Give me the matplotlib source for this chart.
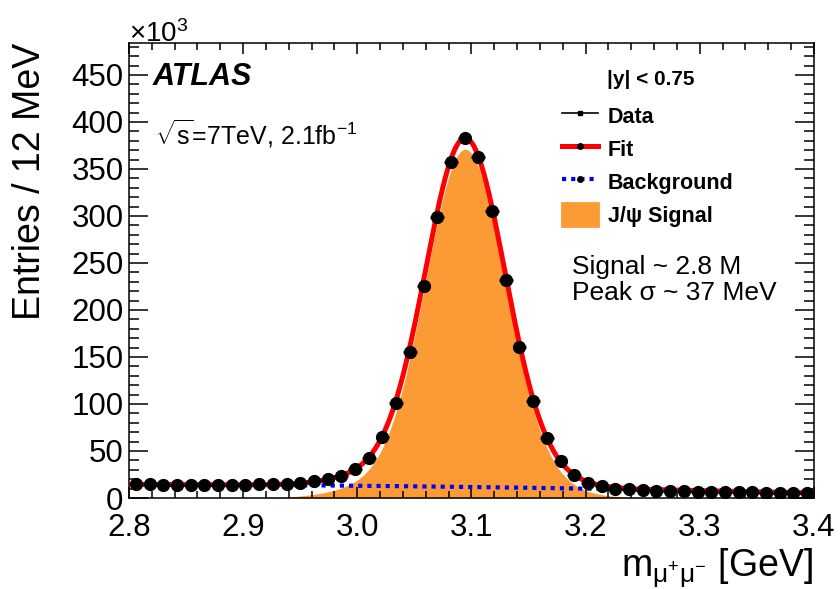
import numpy as np
import matplotlib
matplotlib.use("Agg")
import matplotlib.pyplot as plt
from matplotlib.lines import Line2D
from matplotlib.patches import Patch

plt.rcParams['font.family'] = ['Liberation Sans', 'DejaVu Sans']
plt.rcParams['mathtext.fontset'] = 'custom'
plt.rcParams['mathtext.rm'] = 'Liberation Sans'
plt.rcParams['mathtext.it'] = 'Liberation Sans:italic'
plt.rcParams['mathtext.bf'] = 'Liberation Sans:bold'

# ---- data (entries in units of 10^3 per 12 MeV bin) ----
bin_low = 2.8
bin_width = 0.012
data_counts = [14.6, 14.4, 14.3, 14.2, 14.2, 14.2, 14.1, 14.1, 14.2, 14.4,
               14.7, 15.2, 16.3, 18.4, 20.2, 23.8, 30.5, 42.6, 64.6, 101.4,
               155.0, 225.5, 299.3, 357.4, 382.6, 362.4, 305.3, 231.6, 160.3, 103.2,
               64.2, 39.0, 24.5, 16.3, 12.6, 9.8, 9.2, 8.3, 7.9, 7.2,
               7.0, 6.8, 6.5, 6.3, 6.1, 6.0, 5.8, 5.6, 5.4, 5.3]

# ---- fit model parameters ----
peak_mass = 3.0945
core_amp, core_sigma = 320.0, 0.034
wide_amp, wide_sigma = 51.0, 0.050
tail_amp, tail_shift, tail_sigma = 4.0, -0.100, 0.030
bg_c0, bg_c1, bg_c2 = 14.5, -3.33, -20.0

x_ticks = [2.8, 2.9, 3.0, 3.1, 3.2, 3.3, 3.4]
y_ticks = [0, 50, 100, 150, 200, 250, 300, 350, 400, 450]

centers = bin_low + bin_width * (np.arange(len(data_counts)) + 0.5)


def background(x):
    u = x - 2.8
    return bg_c0 + bg_c1 * u + bg_c2 * u ** 2


def signal(x):
    d = x - peak_mass
    return (core_amp * np.exp(-d ** 2 / (2 * core_sigma ** 2))
            + wide_amp * np.exp(-d ** 2 / (2 * wide_sigma ** 2))
            + tail_amp * np.exp(-(d - tail_shift) ** 2 / (2 * tail_sigma ** 2)))


xf = np.linspace(2.8, 3.4, 800)
sig = signal(xf)
bkg = background(xf)
fit = sig + bkg

orange = '#FC9A36'

fig = plt.figure(figsize=(8.4, 5.89), dpi=100)
ax = fig.add_axes([129 / 840, 1 - 498 / 589, 685 / 840, 455 / 589])

ax.fill_between(xf, 0, sig, color=orange, lw=0, zorder=1)
ax.plot(xf, bkg, color='#0000FF', lw=3, linestyle=(0, (1, 1.2)), zorder=2)
ax.plot(xf, fit, color='#FF0000', lw=3.6, zorder=3, solid_capstyle='butt')
ax.errorbar(centers, data_counts, xerr=bin_width / 2, fmt='o', color='black',
            ms=8.5, elinewidth=1.8, capsize=0, zorder=4)

ax.set_xlim(2.8, 3.4)
ax.set_ylim(0, 484)
ax.set_xticks(x_ticks)
ax.set_xticklabels([f"{v:.1f}" for v in x_ticks])
ax.set_yticks(y_ticks)
ax.set_xticks(np.arange(2.8, 3.4001, 0.02), minor=True)
ax.set_yticks(np.arange(0, 481, 10), minor=True)

for s in ax.spines.values():
    s.set_linewidth(1.1)
ax.tick_params(axis='both', which='both', direction='in', top=True, right=True,
               width=1.1, labelsize=22.5)
ax.tick_params(axis='x', which='major', length=8, pad=11)
ax.tick_params(axis='x', which='minor', length=4.7)
ax.tick_params(axis='y', which='major', length=13.7, pad=4)
ax.tick_params(axis='y', which='minor', length=7.2)

ax.set_ylabel('Entries / 12 MeV', fontsize=27, loc='top')
ax.yaxis.set_label_coords(-0.118, 1.0)
ax.set_xlabel(r'm$_{\mathrm{\mu^{+}\mu^{-}}}$ [GeV]', fontsize=27, loc='right')
ax.xaxis.set_label_coords(0.999, -0.106)

ax.text(0.0, 1.003, r'$\times$10$^{3}$', transform=ax.transAxes, fontsize=20,
        ha='left', va='baseline')

ax.text(0.035, 0.908, 'ATLAS', transform=ax.transAxes, fontsize=22,
        fontweight='bold', fontstyle='italic', ha='left', va='baseline')
ax.text(0.038, 0.776, r'$\sqrt{\mathrm{s}}$=7TeV, 2.1fb$^{\mathrm{-1}}$', transform=ax.transAxes,
        fontsize=18, ha='left', va='baseline')

ax.text(0.698, 0.908, '|y| < 0.75', transform=ax.transAxes, fontsize=15,
        fontweight='bold', ha='left', va='baseline')

handles = [
    Line2D([], [], color='black', lw=1.2, marker='s', ms=3),
    Line2D([], [], color='#FF0000', lw=3.6, marker='o', ms=4, mfc='black', mec='black'),
    Line2D([], [], color='#0000FF', lw=3, linestyle=(0, (1, 1.2)), marker='o', ms=4,
           mfc='black', mec='black'),
    Patch(facecolor=orange, edgecolor=orange, linewidth=2, joinstyle='round'),
]
labels = ['Data', 'Fit', 'Background', 'J/ψ Signal']
leg = ax.legend(handles, labels, loc='upper left', bbox_to_anchor=(0.632, 0.866),
                frameon=False, borderpad=0, borderaxespad=0,
                prop={'size': 15.5, 'weight': 'bold'},
                handlelength=1.67, handleheight=1.3, handletextpad=0.47,
                labelspacing=0.42)

ax.text(0.647, 0.492, 'Signal ~ 2.8 M', transform=ax.transAxes, fontsize=19,
        ha='left', va='baseline')
ax.text(0.647, 0.435, 'Peak σ ~ 37 MeV', transform=ax.transAxes, fontsize=19,
        ha='left', va='baseline')

fig.savefig('out.png', dpi=100)
